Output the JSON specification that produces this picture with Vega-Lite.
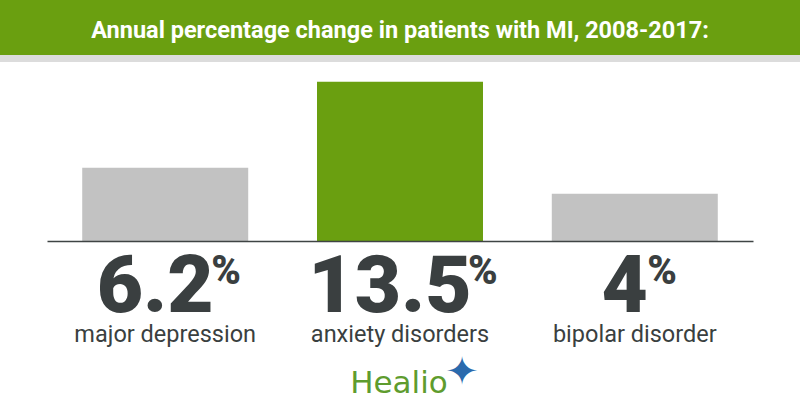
{
  "$schema": "https://vega.github.io/schema/vega-lite/v6.json",
  "padding": 0,
  "background": "white",
  "spacing": 0,
  "center": true,
  "bounds": "flush",
  "config": {"view": {"stroke": null}, "font": "Roboto"},
  "vconcat": [
    {
      "width": 800,
      "height": 55,
      "view": {"fill": "#6a9f10", "stroke": null},
      "data": {"values": [{"title": "Annual percentage change in patients with MI, 2008-2017:"}]},
      "mark": {"type": "text", "color": "white", "font": "Roboto", "fontWeight": "bold", "fontSize": 23.5, "baseline": "alphabetic", "dy": 10},
      "encoding": {"text": {"field": "title"}}
    },
    {
      "width": 800,
      "height": 7,
      "view": {"fill": "#dcdcdc", "stroke": null},
      "data": {"values": [{"t": ""}]},
      "mark": {"type": "text"},
      "encoding": {"text": {"field": "t"}}
    },
    {
      "width": 706,
      "height": 179,
      "data": {"values": [
        {"condition": "major depression", "change": 6.2, "label": "6.2"},
        {"condition": "anxiety disorders", "change": 13.5, "label": "13.5"},
        {"condition": "bipolar disorder", "change": 4, "label": "4"}
      ]},
      "resolve": {"scale": {"x": "independent", "xOffset": "independent"}},
      "layer": [
        {
          "encoding": {
            "x": {"field": "condition", "type": "nominal", "sort": null,
                  "scale": {"paddingInner": 0.293, "paddingOuter": 0.15},
                  "axis": {"title": null, "labels": false, "ticks": false, "domainColor": "#3f4444", "domainWidth": 1.6, "zindex": 1}}
          },
          "layer": [
            {
              "mark": {"type": "bar", "width": {"band": 1}},
              "encoding": {
                "y": {"field": "change", "type": "quantitative", "scale": {"domain": [0, 15.17], "nice": false}, "axis": null},
                "color": {"field": "condition", "type": "nominal", "legend": null,
                          "scale": {"domain": ["major depression", "anxiety disorders", "bipolar disorder"], "range": ["#c2c2c2", "#6a9f10", "#c2c2c2"]}}
              }
            },
            {
              "mark": {"type": "text", "align": "center", "baseline": "alphabetic", "dx": -10, "dy": 71, "fontSize": 80, "fontWeight": 900, "font": "Roboto", "color": "#3a3f40"},
              "encoding": {
                "y": {"datum": 0, "type": "quantitative"},
                "text": {"field": "label"}
              }
            },
            {
              "mark": {"type": "text", "align": "center", "baseline": "alphabetic", "dy": 101, "fontSize": 23.5, "font": "Roboto", "color": "#3a3f40"},
              "encoding": {
                "y": {"datum": 0, "type": "quantitative"},
                "text": {"field": "condition"}
              }
            },
            {
              "data": {"values": [{"brand": "Healio", "icon": "✦"}]},
              "layer": [
                {
                  "mark": {"type": "text", "align": "center", "baseline": "alphabetic", "dx": -1, "dy": 152, "fontSize": 31, "font": "DejaVu Sans", "color": "#5e9c2e"},
                  "encoding": {
                    "x": {"datum": "anxiety disorders"},
                    "y": {"datum": 0, "type": "quantitative"},
                    "text": {"field": "brand"}
                  }
                },
                {
                  "mark": {"type": "text", "align": "center", "baseline": "middle", "dx": 62, "dy": 132, "fontSize": 40, "font": "DejaVu Sans", "color": "#2a6aad"},
                  "encoding": {
                    "x": {"datum": "anxiety disorders"},
                    "y": {"datum": 0, "type": "quantitative"},
                    "text": {"field": "icon"}
                  }
                }
              ]
            }
          ]
        },
        {
          "mark": {"type": "text", "align": "left", "baseline": "alphabetic", "dy": 43, "fontSize": 40, "fontWeight": 900, "font": "Roboto", "color": "#3a3f40"},
          "encoding": {
            "x": {"field": "condition", "type": "nominal", "sort": null,
                  "scale": {"paddingInner": 0.293, "paddingOuter": 0.15}, "axis": null},
            "y": {"datum": 0, "type": "quantitative"},
            "xOffset": {"field": "change", "type": "quantitative", "scale": {"domain": [4, 6.2, 13.5], "range": [95.5, 129, 151]}},
            "text": {"value": "%"}
          }
        }
      ]
    }
  ]
}
